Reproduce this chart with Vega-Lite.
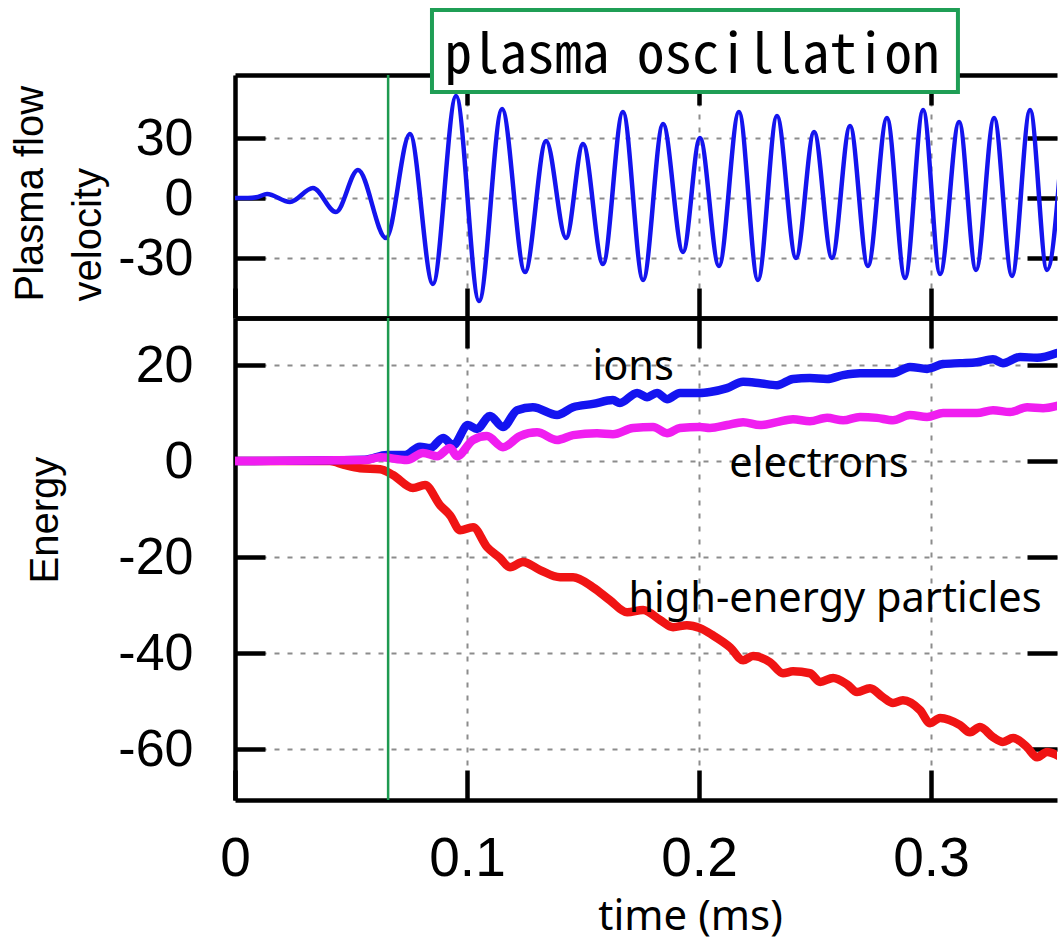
{
"$schema": "https://vega.github.io/schema/vega-lite/v6.json",
"background": "white",
"padding": {"left": 10, "top": 8, "right": 0, "bottom": 12},
"spacing": 0,
"bounds": "flush",
"config": {
  "view": {"stroke": null},
  "axis": {"domainColor": "black", "domainWidth": 4.5, "tickColor": "black", "tickWidth": 4.5, "tickSize": -30,
    "gridColor": "#8c8c8c", "gridWidth": 2, "gridDash": [5, 8], "labelColor": "black", "labelFont": "Liberation Sans",
    "titleColor": "black", "titleFont": "Liberation Sans", "titleFontWeight": "normal", "labelFlush": false, "labelOverlap": false}
},
"datasets": {
  "velocity": [
    {"t":0,"v":0},{"t":0.0056,"v":0},{"t":0.0099,"v":0.5},{"t":0.0138,"v":2},{"t":0.0237,"v":-2},{"t":0.0336,"v":5},{"t":0.0435,"v":-7},{"t":0.053,"v":14},{"t":0.0651,"v":-20},{"t":0.0754,"v":32},{"t":0.0853,"v":-43},{"t":0.0953,"v":51},{"t":0.1052,"v":-51.5},{"t":0.1151,"v":44.5},{"t":0.125,"v":-37},{"t":0.1341,"v":28.5},{"t":0.1427,"v":-20},{"t":0.15,"v":27},{"t":0.1586,"v":-33},{"t":0.1672,"v":43},{"t":0.1759,"v":-41},{"t":0.1845,"v":37},{"t":0.1931,"v":-27},{"t":0.2004,"v":30},{"t":0.2086,"v":-34},{"t":0.2172,"v":43},{"t":0.2254,"v":-41},{"t":0.2336,"v":41},{"t":0.2418,"v":-30},{"t":0.2496,"v":33},{"t":0.2573,"v":-30},{"t":0.2651,"v":36},{"t":0.2728,"v":-34},{"t":0.281,"v":40},{"t":0.2888,"v":-40},{"t":0.2966,"v":44},{"t":0.3039,"v":-38},{"t":0.3121,"v":38},{"t":0.3194,"v":-36},{"t":0.3272,"v":40},{"t":0.3349,"v":-39},{"t":0.3427,"v":44},{"t":0.35,"v":-36},{"t":0.3573,"v":40}
  ],
  "ions": [
    {"t":0,"e":0},{"t":0.056,"e":0.3},{"t":0.0655,"e":1.25},{"t":0.0733,"e":1.25},{"t":0.0797,"e":3},{"t":0.0841,"e":2.7},{"t":0.0897,"e":4.8},{"t":0.094,"e":3.3},{"t":0.1004,"e":7.5},{"t":0.1043,"e":6.7},{"t":0.1099,"e":9.4},{"t":0.1155,"e":7.1},{"t":0.1216,"e":10.6},{"t":0.1284,"e":11.2},{"t":0.1388,"e":9.6},{"t":0.1457,"e":11.2},{"t":0.1543,"e":11.9},{"t":0.1629,"e":12.7},{"t":0.1659,"e":12.1},{"t":0.1733,"e":14.2},{"t":0.1776,"e":13.3},{"t":0.1819,"e":14.2},{"t":0.1862,"e":12.9},{"t":0.1918,"e":14.2},{"t":0.2004,"e":14.2},{"t":0.2047,"e":14.4},{"t":0.2121,"e":15.2},{"t":0.219,"e":16.5},{"t":0.2263,"e":16.2},{"t":0.2336,"e":15.8},{"t":0.2405,"e":17.1},{"t":0.2478,"e":17.3},{"t":0.2552,"e":17.1},{"t":0.2621,"e":17.9},{"t":0.2694,"e":18.3},{"t":0.2767,"e":18.3},{"t":0.2836,"e":18.3},{"t":0.2909,"e":19.6},{"t":0.2983,"e":19.2},{"t":0.3052,"e":20.2},{"t":0.3125,"e":20.4},{"t":0.3198,"e":20.6},{"t":0.3267,"e":21.2},{"t":0.331,"e":20.4},{"t":0.3384,"e":21.7},{"t":0.3457,"e":21.5},{"t":0.3543,"e":22.5}
  ],
  "electrons": [
    {"t":0,"e":0},{"t":0.056,"e":0.2},{"t":0.0625,"e":0.8},{"t":0.0741,"e":0.2},{"t":0.081,"e":1.7},{"t":0.0871,"e":1.0},{"t":0.0927,"e":2.7},{"t":0.0957,"e":1.0},{"t":0.1026,"e":4.4},{"t":0.1086,"e":5.2},{"t":0.1155,"e":2.9},{"t":0.1228,"e":5.2},{"t":0.1302,"e":6.0},{"t":0.1388,"e":4.4},{"t":0.1457,"e":5.4},{"t":0.156,"e":5.8},{"t":0.1629,"e":5.6},{"t":0.1716,"e":6.9},{"t":0.1802,"e":7.1},{"t":0.1862,"e":5.8},{"t":0.1918,"e":6.9},{"t":0.2004,"e":7.1},{"t":0.2047,"e":6.9},{"t":0.2121,"e":7.5},{"t":0.219,"e":8.1},{"t":0.2263,"e":7.5},{"t":0.2336,"e":8.1},{"t":0.2405,"e":8.7},{"t":0.2478,"e":8.3},{"t":0.2552,"e":9.0},{"t":0.2621,"e":8.5},{"t":0.2694,"e":9.2},{"t":0.2767,"e":9.0},{"t":0.2836,"e":8.5},{"t":0.2909,"e":9.6},{"t":0.2983,"e":9.2},{"t":0.3052,"e":10.0},{"t":0.3125,"e":10.0},{"t":0.3198,"e":10.0},{"t":0.3267,"e":10.6},{"t":0.3341,"e":10.2},{"t":0.3414,"e":11.2},{"t":0.3483,"e":11.0},{"t":0.356,"e":11.7}
  ],
  "hep": [
    {"t":0,"e":0},{"t":0.0409,"e":0},{"t":0.047,"e":-0.8},{"t":0.0539,"e":-1.5},{"t":0.0625,"e":-1.7},{"t":0.0681,"e":-2.9},{"t":0.0767,"e":-5.6},{"t":0.0819,"e":-5.0},{"t":0.0884,"e":-9.2},{"t":0.0927,"e":-11.3},{"t":0.097,"e":-14.4},{"t":0.1026,"e":-13.8},{"t":0.1086,"e":-17.9},{"t":0.1142,"e":-20.2},{"t":0.1185,"e":-22.1},{"t":0.1241,"e":-21.0},{"t":0.1315,"e":-22.7},{"t":0.1401,"e":-24.2},{"t":0.1457,"e":-24.2},{"t":0.1543,"e":-26.3},{"t":0.1616,"e":-29.0},{"t":0.169,"e":-31.5},{"t":0.1759,"e":-31.0},{"t":0.1832,"e":-33.1},{"t":0.1888,"e":-34.6},{"t":0.1948,"e":-34.2},{"t":0.2004,"e":-34.8},{"t":0.206,"e":-36.3},{"t":0.2134,"e":-38.8},{"t":0.219,"e":-41.5},{"t":0.2233,"e":-40.6},{"t":0.2306,"e":-41.9},{"t":0.2362,"e":-44.2},{"t":0.2405,"e":-43.8},{"t":0.2478,"e":-44.2},{"t":0.2522,"e":-46.0},{"t":0.2578,"e":-45.2},{"t":0.2638,"e":-46.5},{"t":0.2681,"e":-48.1},{"t":0.2737,"e":-47.3},{"t":0.2793,"e":-49.2},{"t":0.2836,"e":-50.4},{"t":0.2879,"e":-49.8},{"t":0.2953,"e":-51.9},{"t":0.2996,"e":-54.6},{"t":0.3039,"e":-53.5},{"t":0.3125,"e":-55.0},{"t":0.3168,"e":-56.5},{"t":0.3211,"e":-55.4},{"t":0.3267,"e":-57.5},{"t":0.331,"e":-58.5},{"t":0.3354,"e":-57.7},{"t":0.3414,"e":-59.6},{"t":0.3457,"e":-61.7},{"t":0.35,"e":-60.6},{"t":0.356,"e":-61.7}
  ],
  "marker": [{"t": 0.066}],
  "box": [{"t0": 0.0849, "t1": 0.3116, "v0": 94, "v1": 53}],
  "boxlabel": [{"t": 0.197, "v": 62.5, "label": "plasma oscillation"}],
  "notes": [
    {"t": 0.1716, "e": 16.9, "label": "ions"},
    {"t": 0.2517, "e": -3.3, "label": "electrons"},
    {"t": 0.2586, "e": -31.5, "label": "high-energy particles"}
  ]
},
"resolve": {"scale": {"x": "independent", "y": "independent"}},
"vconcat": [
  {
    "width": 822, "height": 243,
    "resolve": {"scale": {"x": "independent", "y": "independent"}},
    "layer": [
      {
        "data": {"name": "velocity"},
        "mark": {"type": "line", "color": "#1414ee", "strokeWidth": 4.5, "interpolate": "monotone", "clip": true},
        "encoding": {
          "x": {"field": "t", "type": "quantitative", "scale": {"domain": [0, 0.3543], "nice": false, "zero": false},
            "axis": {"orient": "bottom", "values": [0, 0.1, 0.2, 0.3], "labels": false, "title": null, "grid": true}},
          "y": {"field": "v", "type": "quantitative", "scale": {"domain": [-60, 61.5], "nice": false, "zero": false},
            "axis": {"orient": "left", "values": [-30, 0, 30], "labelExpr": "'' + datum.value", "labelFontSize": 52, "labelPadding": 72, "grid": true,
              "title": ["Plasma flow", "velocity"], "titleFontSize": 40, "titleLineHeight": 58, "titleAngle": -90, "titleAlign": "left", "titleBaseline": "alphabetic", "titleX": -193, "titleY": 226}}
        }
      },
      {
        "data": {"name": "marker"},
        "mark": {"type": "rule", "color": "#1e9a50", "strokeWidth": 2.5},
        "encoding": {"x": {"field": "t", "type": "quantitative", "scale": {"domain": [0, 0.3543], "nice": false, "zero": false}, "axis": null}}
      },
      {
        "data": {"name": "box"},
        "mark": {"type": "rect", "fill": "white", "stroke": "#1f9e55", "strokeWidth": 4, "clip": false},
        "encoding": {
          "x": {"field": "t0", "type": "quantitative", "scale": {"domain": [0, 0.3543], "nice": false, "zero": false},
            "axis": {"orient": "top", "values": [0.1, 0.2, 0.3], "labels": false, "title": null, "grid": false}},
          "x2": {"field": "t1"},
          "y": {"field": "v0", "type": "quantitative", "scale": {"domain": [-60, 61.5], "nice": false, "zero": false},
            "axis": {"orient": "right", "values": [-30, 0, 30], "labels": false, "title": null, "grid": false, "domain": false}},
          "y2": {"field": "v1"}
        }
      },
      {
        "data": {"name": "boxlabel"},
        "mark": {"type": "text", "font": "Noto Sans Mono CJK JP", "fontSize": 55, "color": "black", "align": "center", "baseline": "alphabetic", "clip": false},
        "encoding": {
          "x": {"field": "t", "type": "quantitative", "scale": {"domain": [0, 0.3543], "nice": false, "zero": false}, "axis": null},
          "y": {"field": "v", "type": "quantitative", "scale": {"domain": [-60, 61.5], "nice": false, "zero": false}, "axis": null},
          "text": {"field": "label"}
        }
      }
    ]
  },
  {
    "width": 822, "height": 482,
    "resolve": {"scale": {"x": "independent", "y": "independent"}},
    "layer": [
      {
        "data": {"name": "hep"},
        "mark": {"type": "line", "color": "#f01414", "strokeWidth": 8.5, "interpolate": "monotone", "strokeCap": "round", "strokeJoin": "round", "clip": true},
        "encoding": {
          "x": {"field": "t", "type": "quantitative", "scale": {"domain": [0, 0.3543], "nice": false, "zero": false},
            "axis": {"orient": "bottom", "values": [0, 0.1, 0.2, 0.3], "labelExpr": "'' + datum.value", "labelFontSize": 55, "labelPadding": 62, "labelDx": 4, "grid": true,
              "title": "time (ms)", "titleFont": "Noto Sans", "titleFontSize": 42, "titleX": 455, "titleY": 129, "titleBaseline": "alphabetic", "titleAlign": "center", "titleAngle": 0}},
          "y": {"field": "e", "type": "quantitative", "scale": {"domain": [-70.6, 29.8], "nice": false, "zero": false},
            "axis": {"orient": "left", "values": [-60, -40, -20, 0, 20], "labelExpr": "'' + datum.value", "labelFontSize": 52, "labelPadding": 72, "grid": true,
              "title": "Energy", "titleFontSize": 40, "titleAngle": -90, "titleAlign": "left", "titleBaseline": "alphabetic", "titleX": -178, "titleY": 265}}
        }
      },
      {
        "data": {"name": "ions"},
        "mark": {"type": "line", "color": "#1414f0", "strokeWidth": 8.5, "interpolate": "monotone", "strokeCap": "round", "strokeJoin": "round", "clip": true},
        "encoding": {
          "x": {"field": "t", "type": "quantitative", "scale": {"domain": [0, 0.3543], "nice": false, "zero": false}, "axis": null},
          "y": {"field": "e", "type": "quantitative", "scale": {"domain": [-70.6, 29.8], "nice": false, "zero": false}, "axis": null}
        }
      },
      {
        "data": {"name": "electrons"},
        "mark": {"type": "line", "color": "#f01ef0", "strokeWidth": 8.5, "interpolate": "monotone", "strokeCap": "round", "strokeJoin": "round", "clip": true},
        "encoding": {
          "x": {"field": "t", "type": "quantitative", "scale": {"domain": [0, 0.3543], "nice": false, "zero": false},
            "axis": {"orient": "top", "values": [0.1, 0.2, 0.3], "labels": false, "title": null, "grid": false}},
          "y": {"field": "e", "type": "quantitative", "scale": {"domain": [-70.6, 29.8], "nice": false, "zero": false},
            "axis": {"orient": "right", "values": [-60, -40, -20, 0, 20], "labels": false, "title": null, "grid": false, "domain": false}}
        }
      },
      {
        "data": {"name": "marker"},
        "mark": {"type": "rule", "color": "#1e9a50", "strokeWidth": 2.5},
        "encoding": {"x": {"field": "t", "type": "quantitative", "scale": {"domain": [0, 0.3543], "nice": false, "zero": false}, "axis": null}}
      },
      {
        "data": {"name": "notes"},
        "mark": {"type": "text", "font": "Noto Sans", "fontSize": 41.5, "color": "black", "align": "center", "baseline": "alphabetic"},
        "encoding": {
          "x": {"field": "t", "type": "quantitative", "scale": {"domain": [0, 0.3543], "nice": false, "zero": false}, "axis": null},
          "y": {"field": "e", "type": "quantitative", "scale": {"domain": [-70.6, 29.8], "nice": false, "zero": false}, "axis": null},
          "text": {"field": "label"}
        }
      }
    ]
  }
]
}
